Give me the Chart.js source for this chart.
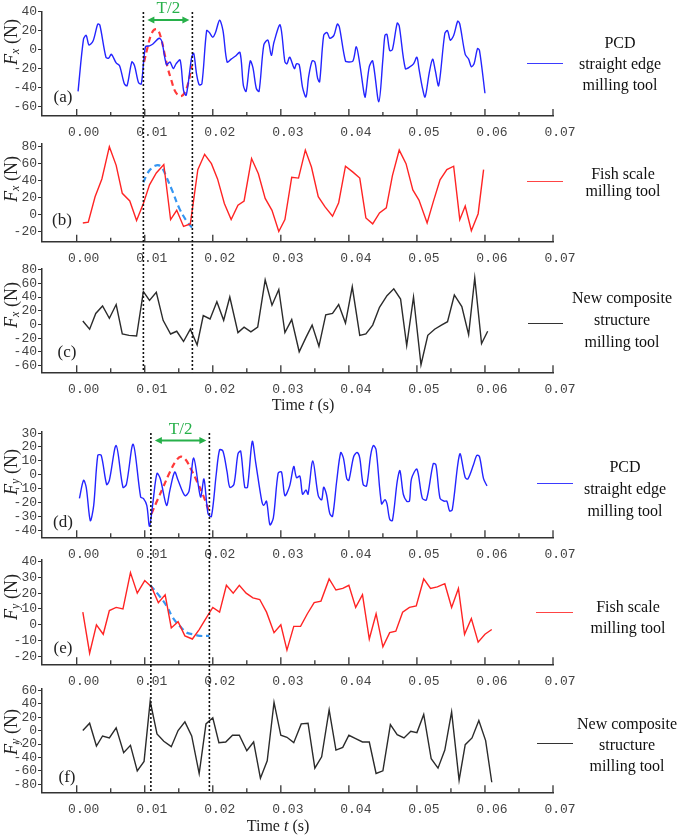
<!DOCTYPE html>
<html>
<head>
<meta charset="utf-8">
<script src="https://cdn.jsdelivr.net/npm/chart.js@4.4.1/dist/chart.umd.min.js"></script>
<style>
  body { margin: 0; background: #fff; }
  #wrap { position: relative; width: 685px; height: 835px; overflow: hidden; }
  #wrap canvas { position: absolute; left: 0; top: 0; }
  .ytitle { position: absolute; left: 11px; font: 18px/18px "Liberation Serif", serif; color: #222;
            transform: translate(-50%, -50%) rotate(-90deg); white-space: nowrap; }
  .ytitle sub { font-size: 12px; font-style: italic; vertical-align: -2px; line-height: 0; }
  .xtitle { position: absolute; font: 16px "Liberation Serif", serif; color: #222;
            transform: translate(-50%, -50%); white-space: nowrap; }
  .lg { position: absolute; font: 16px "Liberation Serif", serif; color: #111; text-align: center;
        transform: translate(-50%, -50%); white-space: nowrap; }
  .lgline { position: absolute; height: 0; border-top: 1.5px solid; }
</style>
</head>
<body>
<div id="wrap">
  <canvas id="ca" width="685" height="835"></canvas>
  <canvas id="cb" width="685" height="835"></canvas>
  <canvas id="cc" width="685" height="835"></canvas>
  <canvas id="cd" width="685" height="835"></canvas>
  <canvas id="ce" width="685" height="835"></canvas>
  <canvas id="cf" width="685" height="835"></canvas>

  <div class="ytitle" style="top:42px"><i>F</i><sub>x</sub> (N)</div>
  <div class="ytitle" style="top:179px"><i>F</i><sub>x</sub> (N)</div>
  <div class="ytitle" style="top:305px"><i>F</i><sub>x</sub> (N)</div>
  <div class="ytitle" style="top:472px"><i>F</i><sub>y</sub> (N)</div>
  <div class="ytitle" style="top:597px"><i>F</i><sub>y</sub> (N)</div>
  <div class="ytitle" style="top:732px"><i>F</i><sub>y</sub> (N)</div>

  <div class="xtitle" style="left:303px;top:405px">Time <i>t</i> (s)</div>
  <div class="xtitle" style="left:278px;top:826px">Time <i>t</i> (s)</div>

  <div class="lgline" style="left:527px;top:63px;width:36px;border-color:#3b3bff"></div>
  <div class="lg" style="left:620px;top:63px;line-height:21px">PCD<br>straight edge<br>milling tool</div>
  <div class="lgline" style="left:527px;top:181px;width:36px;border-color:#ff4444"></div>
  <div class="lg" style="left:623px;top:182px;line-height:17px">Fish scale<br>milling tool</div>
  <div class="lgline" style="left:528px;top:323px;width:35px;border-color:#333"></div>
  <div class="lg" style="left:622px;top:320px;line-height:22px">New composite<br>structure<br>milling tool</div>

  <div class="lgline" style="left:537px;top:483px;width:36px;border-color:#3b3bff"></div>
  <div class="lg" style="left:625px;top:489px;line-height:22px">PCD<br>straight edge<br>milling tool</div>
  <div class="lgline" style="left:536px;top:612px;width:37px;border-color:#ff4444"></div>
  <div class="lg" style="left:628px;top:617px;line-height:21px">Fish scale<br>milling tool</div>
  <div class="lgline" style="left:537px;top:743px;width:36px;border-color:#333"></div>
  <div class="lg" style="left:627px;top:744px;line-height:21px">New composite<br>structure<br>milling tool</div>
</div>

<script>
// time axis ticks (s)
const xTickVals = [0, 0.01, 0.02, 0.03, 0.04, 0.05, 0.06, 0.07];
const xMinorVals = [0.005, 0.015, 0.025, 0.035, 0.045, 0.055, 0.065];

// guide lines / half period marks (s)
const fxGuides = [0.0098, 0.0170];
const fyGuides = [0.0109, 0.0195];

// (a) Fx, PCD straight edge milling tool  [t, N]
const fxPcd = [
  [0.0002,-44],[0.0010,11],[0.0014,15],[0.0018,5],[0.0024,9],[0.0031,27],[0.0034,26],[0.0043,-8],
  [0.0047,-9],[0.0051,-5],[0.0058,-14],[0.0063,-17],[0.0070,-36],[0.0074,-38],[0.0081,-13],[0.0085,-17],
  [0.0091,-35],[0.0095,-36],[0.0101,3],[0.0107,4],[0.0112,6],[0.0121,12],[0.0125,9],[0.0132,-16],
  [0.0137,-13],[0.0142,-20],[0.0146,-15],[0.0152,-11],[0.0157,-43],[0.0161,-48],[0.0169,-8],[0.0172,-4],
  [0.0176,-25],[0.0180,-37],[0.0184,-36],[0.0191,20],[0.0195,18],[0.0200,13],[0.0204,18],[0.0210,31],
  [0.0215,20],[0.0221,-13],[0.0227,-10],[0.0233,-7],[0.0240,-3],[0.0245,-38],[0.0249,-44],[0.0255,-12],
  [0.0259,-19],[0.0264,-41],[0.0268,-44],[0.0275,5],[0.0281,10],[0.0286,-6],[0.0290,8],[0.0299,26],
  [0.0306,-13],[0.0309,-15],[0.0313,-8],[0.0320,-20],[0.0323,-15],[0.0327,-16],[0.0332,-40],[0.0337,-50],
  [0.0341,-28],[0.0346,-12],[0.0350,-13],[0.0354,-30],[0.0357,-34],[0.0363,15],[0.0368,18],[0.0372,12],
  [0.0378,15],[0.0383,27],[0.0386,24],[0.0395,-12],[0.0400,-13],[0.0406,-12],[0.0411,3],[0.0416,-15],
  [0.0422,-45],[0.0424,-50],[0.0430,-18],[0.0435,-12],[0.0444,-55],[0.0450,-10],[0.0453,15],[0.0456,16],
  [0.0460,-1],[0.0464,0],[0.0471,28],[0.0474,25],[0.0483,-20],[0.0490,-18],[0.0495,-15],[0.0500,-8],
  [0.0503,-20],[0.0508,-40],[0.0512,-50],[0.0518,-25],[0.0523,-10],[0.0527,-22],[0.0532,-38],[0.0541,17],
  [0.0545,20],[0.0549,10],[0.0554,15],[0.0560,30],[0.0563,27],[0.0571,-5],[0.0576,-10],[0.0580,-18],
  [0.0584,-15],[0.0589,1],[0.0592,-1],[0.0600,-46]
];
const fxPcdWave = [
  [0.0099,-13],[0.0104,2],[0.0109,15],[0.0114,21],[0.0119,21],[0.0124,12],[0.0129,-4],[0.0134,-20],
  [0.0139,-32],[0.0144,-43],[0.0149,-48],[0.0154,-49],[0.0159,-45],[0.0164,-35],[0.0169,-17]
];

// (b) Fx, fish scale milling tool
const fxFish = [
  [0.0009,-10],[0.0017,-9],[0.0027,21],[0.0037,42],[0.0048,80],[0.0058,58],[0.0067,25],[0.0078,16],
  [0.0088,-7],[0.0098,13],[0.0107,35],[0.0117,49],[0.0128,59],[0.0138,-6],[0.0147,5],[0.0157,-14],
  [0.0167,-11],[0.0178,53],[0.0188,71],[0.0198,60],[0.0207,42],[0.0217,13],[0.0227,-6],[0.0237,11],
  [0.0246,16],[0.0257,66],[0.0267,48],[0.0277,19],[0.0287,5],[0.0297,-20],[0.0306,-6],[0.0316,44],
  [0.0326,43],[0.0336,76],[0.0345,56],[0.0355,21],[0.0365,9],[0.0376,-2],[0.0385,14],[0.0395,57],
  [0.0406,50],[0.0416,43],[0.0425,-4],[0.0435,-11],[0.0445,2],[0.0455,8],[0.0464,46],[0.0474,76],
  [0.0484,60],[0.0494,29],[0.0503,17],[0.0515,-10],[0.0524,15],[0.0534,41],[0.0544,53],[0.0554,57],
  [0.0563,-6],[0.0571,10],[0.0580,-19],[0.0590,1],[0.0598,53]
];
const fxFishWave = [
  [0.0098,38],[0.0103,47],[0.0108,53],[0.0114,57],[0.0121,58],[0.0127,53],[0.0132,44],[0.0141,27],
  [0.0151,7],[0.0161,-7],[0.0170,-16]
];

// (c) Fx, new composite structure milling tool
const fxComp = [
  [0.0009,5],[0.0019,-7],[0.0028,16],[0.0038,27],[0.0048,9],[0.0058,29],[0.0067,-14],[0.0077,-16],
  [0.0088,-17],[0.0098,48],[0.0107,35],[0.0117,47],[0.0127,6],[0.0138,-14],[0.0147,-10],[0.0157,-25],
  [0.0167,-7],[0.0177,-30],[0.0186,13],[0.0196,8],[0.0206,33],[0.0216,6],[0.0225,40],[0.0237,-12],
  [0.0246,-4],[0.0256,-11],[0.0266,-4],[0.0277,65],[0.0287,28],[0.0297,51],[0.0306,-12],[0.0316,7],
  [0.0327,-40],[0.0337,-19],[0.0346,-1],[0.0356,-32],[0.0366,14],[0.0376,16],[0.0385,29],[0.0395,2],
  [0.0405,55],[0.0416,-16],[0.0425,-14],[0.0435,-1],[0.0445,25],[0.0456,42],[0.0466,52],[0.0476,37],
  [0.0485,-31],[0.0495,40],[0.0506,-59],[0.0516,-16],[0.0526,-7],[0.0536,-1],[0.0545,4],[0.0555,43],
  [0.0566,26],[0.0576,-15],[0.0585,68],[0.0595,-28],[0.0604,-10]
];

// (d) Fy, PCD straight edge milling tool
const fyPcd = [
  [0.0004,-17],[0.0010,-4],[0.0014,-9],[0.0020,-33],[0.0025,-22],[0.0031,14],[0.0036,14],[0.0044,-7],
  [0.0048,-4],[0.0058,21],[0.0068,-9],[0.0073,-7],[0.0083,22],[0.0094,-16],[0.0098,-17],[0.0103,-22],
  [0.0107,-37],[0.0112,-20],[0.0118,1],[0.0123,-3],[0.0132,-22],[0.0137,-11],[0.0144,2],[0.0149,-4],
  [0.0159,-15],[0.0165,-12],[0.0172,12],[0.0182,-16],[0.0187,-3],[0.0193,-28],[0.0198,-30],[0.0205,0],
  [0.0210,18],[0.0215,17],[0.0221,2],[0.0225,-9],[0.0231,-7],[0.0237,15],[0.0241,17],[0.0247,-9],
  [0.0251,-9],[0.0258,24],[0.0263,9],[0.0272,-19],[0.0275,-22],[0.0279,-19],[0.0284,-36],[0.0289,-31],
  [0.0296,1],[0.0301,2],[0.0306,-15],[0.0313,-8],[0.0319,6],[0.0323,-2],[0.0328,-1],[0.0332,-14],
  [0.0337,-11],[0.0340,-14],[0.0347,10],[0.0355,-15],[0.0360,-18],[0.0363,-9],[0.0367,-14],[0.0372,-28],
  [0.0376,-30],[0.0382,-5],[0.0388,16],[0.0392,12],[0.0397,-3],[0.0400,-4],[0.0407,13],[0.0412,16],
  [0.0416,12],[0.0421,-7],[0.0426,-8],[0.0432,14],[0.0436,21],[0.0440,18],[0.0448,-21],[0.0453,-18],
  [0.0456,-21],[0.0460,-32],[0.0464,-33],[0.0471,-5],[0.0475,3],[0.0480,-14],[0.0485,-19],[0.0489,-19],
  [0.0492,-3],[0.0500,4],[0.0508,-17],[0.0514,-18],[0.0524,8],[0.0528,7],[0.0534,-17],[0.0540,-19],
  [0.0544,-19],[0.0548,-26],[0.0552,-25],[0.0563,15],[0.0571,-2],[0.0575,-3],[0.0583,7],[0.0588,14],
  [0.0592,13],[0.0598,-3],[0.0603,-8]
];
const fyPcdWave = [
  [0.0110,-28],[0.0117,-20],[0.0127,-9],[0.0137,2],[0.0146,10],[0.0153,13],[0.0160,11],[0.0168,4],
  [0.0177,-5],[0.0186,-15],[0.0195,-27]
];

// (e) Fy, fish scale milling tool
const fyFish = [
  [0.0009,8],[0.0019,-18],[0.0029,0],[0.0039,-6],[0.0048,9],[0.0058,11],[0.0068,10],[0.0079,33],
  [0.0089,20],[0.0100,28],[0.0110,24],[0.0120,14],[0.0130,19],[0.0139,-2],[0.0149,2],[0.0159,-7],
  [0.0170,-9],[0.0180,-3],[0.0190,4],[0.0200,11],[0.0210,8],[0.0220,25],[0.0230,20],[0.0239,25],
  [0.0249,20],[0.0259,17],[0.0269,16],[0.0279,8],[0.0290,-5],[0.0300,0],[0.0309,-16],[0.0319,-1],
  [0.0329,-1],[0.0339,7],[0.0349,14],[0.0359,15],[0.0371,29],[0.0381,22],[0.0391,23],[0.0400,25],
  [0.0410,11],[0.0420,19],[0.0430,-9],[0.0440,7],[0.0450,-14],[0.0460,-5],[0.0469,-4],[0.0479,8],
  [0.0489,11],[0.0499,12],[0.0510,29],[0.0520,23],[0.0530,24],[0.0541,26],[0.0551,11],[0.0561,23],
  [0.0570,-6],[0.0580,4],[0.0590,-11],[0.0600,-6],[0.0610,-3]
];
const fyFishWave = [
  [0.0108,25],[0.0122,18],[0.0132,12],[0.0142,4],[0.0152,-1],[0.0162,-5],[0.0171,-6],[0.0181,-7],
  [0.0195,-7]
];

// (f) Fy, new composite structure milling tool
const fyComp = [
  [0.0009,0],[0.0019,11],[0.0029,-23],[0.0038,-8],[0.0048,-11],[0.0058,4],[0.0069,-33],[0.0079,-22],
  [0.0089,-60],[0.0099,-46],[0.0108,44],[0.0118,-5],[0.0128,-16],[0.0139,-24],[0.0149,0],[0.0159,13],
  [0.0169,-8],[0.0180,-64],[0.0190,10],[0.0200,19],[0.0209,-18],[0.0219,-17],[0.0229,-7],[0.0239,-7],
  [0.0250,-30],[0.0260,-17],[0.0270,-71],[0.0280,-45],[0.0290,42],[0.0300,-7],[0.0309,-10],[0.0319,-18],
  [0.0330,10],[0.0340,11],[0.0350,-56],[0.0360,-39],[0.0371,31],[0.0381,-29],[0.0391,-25],[0.0400,-7],
  [0.0410,-12],[0.0420,-17],[0.0430,-17],[0.0440,-64],[0.0450,-60],[0.0461,9],[0.0471,-6],[0.0481,-11],
  [0.0491,-1],[0.0500,-3],[0.0510,24],[0.0521,-42],[0.0531,-56],[0.0541,-29],[0.0551,28],[0.0562,-74],
  [0.0571,-21],[0.0581,-11],[0.0591,15],[0.0601,-15],[0.0610,-77]
];

// y tick labels per panel
const fxPcdTicks = [-60, -40, -20, 0, 20, 40];
const fxFishTicks = [-20, 0, 20, 40, 60, 80];
const fxCompTicks = [-60, -40, -20, 0, 20, 40, 60, 80];
const fyPcdTicks = [-40, -30, -20, -10, 0, 10, 20, 30];
const fyFishTicks = [-20, -10, 0, 10, 20, 30, 40];
const fyCompTicks = [-80, -60, -40, -20, 0, 20, 40, 60];

const BLUE = '#2424ff', RED = '#ff2424', BLACK = '#2b2b2b';
const GREEN = '#27b04a';
const serif = '"Liberation Serif", serif';

const pts = arr => arr.map(p => ({ x: p[0], y: p[1] }));
const solid = (arr, color, tension) => ({
  data: pts(arr), borderColor: color, borderWidth: 1.4, tension: tension || 0, pointRadius: 0
});
const dashed = (arr, color) => ({
  data: pts(arr), borderColor: color, borderWidth: 2.2, borderDash: [6, 4], tension: 0.4, pointRadius: 0
});

function line(ctx, x1, y1, x2, y2) {
  ctx.beginPath();
  ctx.moveTo(x1, y1);
  ctx.lineTo(x2, y2);
  ctx.stroke();
}

function arrowHead(ctx, x, y, dir) {
  ctx.beginPath();
  ctx.moveTo(x, y);
  ctx.lineTo(x - dir * 7, y - 3.5);
  ctx.lineTo(x - dir * 7, y + 3.5);
  ctx.closePath();
  ctx.fill();
}

const decor = {
  id: 'decor',
  afterDraw(chart, args, o) {
    const ctx = chart.ctx, xs = chart.scales.x, area = chart.chartArea;
    ctx.save();
    // inward ticks on the time axis
    ctx.strokeStyle = '#333';
    ctx.lineWidth = 1.3;
    xTickVals.forEach(v => {
      const px = xs.getPixelForValue(v);
      line(ctx, px, area.bottom, px, area.bottom - 7);
    });
    xMinorVals.forEach(v => {
      const px = xs.getPixelForValue(v);
      line(ctx, px, area.bottom, px, area.bottom - 4);
    });

    // panel letter
    ctx.fillStyle = '#222';
    ctx.font = '17px ' + serif;
    ctx.textAlign = 'center';
    ctx.textBaseline = 'middle';
    ctx.fillText(o.letter, o.letterX, o.letterY);

    // dotted guide lines through a group of panels
    if (o.guides) {
      ctx.strokeStyle = '#111';
      ctx.lineWidth = 1.6;
      ctx.setLineDash([2, 2]);
      o.guides.forEach(v => {
        const px = xs.getPixelForValue(v);
        line(ctx, px, o.guideTop, px, area.bottom);
      });
      ctx.setLineDash([]);
    }

    // T/2 double arrow
    if (o.half) {
      const x1 = xs.getPixelForValue(o.half[0]) + 4;
      const x2 = xs.getPixelForValue(o.half[1]) - 3;
      ctx.strokeStyle = GREEN;
      ctx.fillStyle = GREEN;
      ctx.lineWidth = 1.8;
      line(ctx, x1 + 3, o.arrowY, x2 - 3, o.arrowY);
      arrowHead(ctx, x1, o.arrowY, -1);
      arrowHead(ctx, x2, o.arrowY, 1);
      ctx.font = '17px ' + serif;
      ctx.fillText('T/2', (x1 + x2) / 2, o.arrowY - 11);
    }
    ctx.restore();
  }
};

function panelChart(id, p) {
  return new Chart(document.getElementById(id), {
    type: 'line',
    data: { datasets: p.datasets },
    options: {
      responsive: false,
      animation: false,
      events: [],
      layout: { padding: { top: p.top, bottom: 835 - p.bottom - 30, left: 0, right: 132 } },
      plugins: { legend: { display: false }, tooltip: { enabled: false }, decor: p.decor },
      scales: {
        x: {
          type: 'linear', min: -0.0051, max: 0.07,
          afterBuildTicks: s => { s.ticks = xTickVals.map(v => ({ value: v })); },
          afterFit: s => { s.height = 30; },
          grid: { display: false, drawTicks: false },
          border: { display: true, color: '#333', width: 1.5 },
          ticks: {
            autoSkip: false, maxRotation: 0, padding: 9, labelOffset: 7, color: '#444',
            font: { family: 'Liberation Mono', size: 13 },
            callback: v => v.toFixed(2)
          }
        },
        y: {
          min: p.yMin, max: p.yMax,
          afterBuildTicks: s => { s.ticks = p.yTicks.map(v => ({ value: v })); },
          afterFit: s => { s.width = 42; },
          grid: { drawOnChartArea: false, tickLength: 4, color: '#333' },
          border: { display: true, color: '#333', width: 1.5 },
          ticks: { autoSkip: false, padding: 1, color: '#444', font: { family: 'Liberation Mono', size: 13 } }
        }
      }
    },
    plugins: [decor]
  });
}

panelChart('ca', {
  top: 11.7, bottom: 116, yMin: -70, yMax: 40, yTicks: fxPcdTicks,
  datasets: [solid(fxPcd, BLUE, 0.3), dashed(fxPcdWave, '#ff3a3a')],
  decor: { letter: '(a)', letterX: 63, letterY: 98, half: fxGuides, arrowY: 20 }
});
panelChart('cb', {
  top: 143.3, bottom: 241.7, yMin: -32, yMax: 84, yTicks: fxFishTicks,
  datasets: [solid(fxFish, RED), dashed(fxFishWave, '#3596f2')],
  decor: { letter: '(b)', letterX: 62, letterY: 221 }
});
panelChart('cc', {
  top: 268.3, bottom: 372.3, yMin: -70, yMax: 82, yTicks: fxCompTicks,
  datasets: [solid(fxComp, BLACK)],
  decor: { letter: '(c)', letterX: 67, letterY: 353, guides: fxGuides, guideTop: 12 }
});
panelChart('cd', {
  top: 431.7, bottom: 537.3, yMin: -45, yMax: 31, yTicks: fyPcdTicks,
  datasets: [solid(fyPcd, BLUE, 0.3), dashed(fyPcdWave, '#ff3a3a')],
  decor: { letter: '(d)', letterX: 63, letterY: 523, half: fyGuides, arrowY: 440.5 }
});
panelChart('ce', {
  top: 560, bottom: 664.3, yMin: -25, yMax: 41, yTicks: fyFishTicks,
  datasets: [solid(fyFish, RED), dashed(fyFishWave, '#3596f2')],
  decor: { letter: '(e)', letterX: 63, letterY: 649 }
});
panelChart('cf', {
  top: 689, bottom: 792.3, yMin: -92, yMax: 62, yTicks: fyCompTicks,
  datasets: [solid(fyComp, BLACK)],
  decor: { letter: '(f)', letterX: 67, letterY: 778, guides: fyGuides, guideTop: 433 }
});
</script>
</body>
</html>
